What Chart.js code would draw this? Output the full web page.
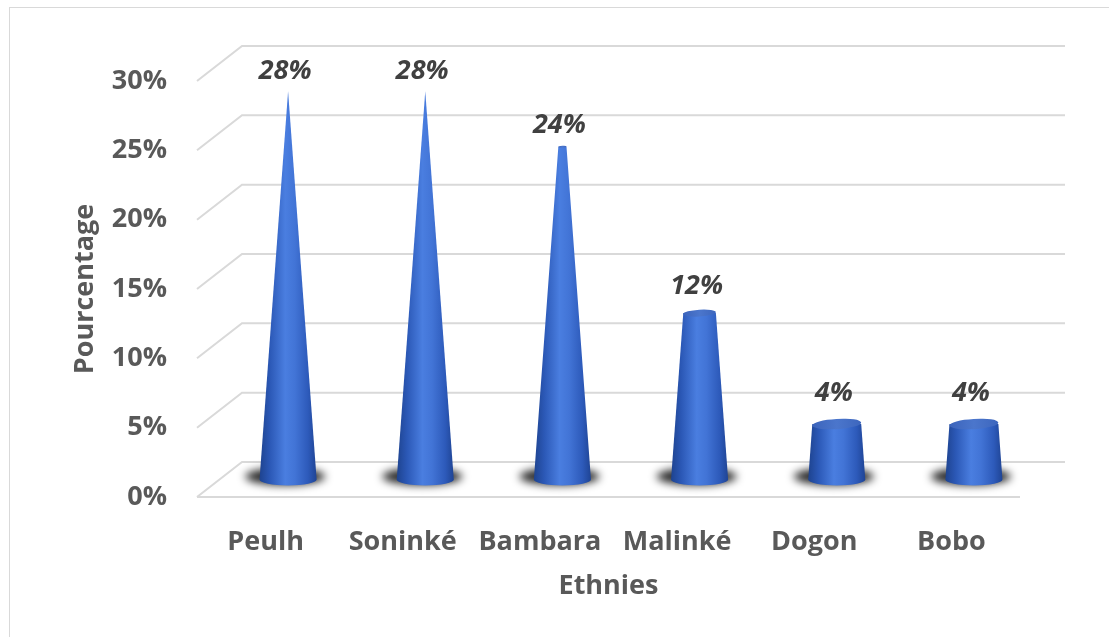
<!DOCTYPE html>
<html>
<head>
<meta charset="utf-8">
<script src="https://cdn.jsdelivr.net/npm/chart.js@4"></script>
<style>
  html, body { margin: 0; padding: 0; background: #fff; }
</style>
</head>
<body>
<canvas id="myChart" width="1109" height="637"></canvas>
<script>
// données
var ethnies = ['Peulh', 'Soninké', 'Bambara', 'Malinké', 'Dogon', 'Bobo'];
var pourcentages = [28, 28, 24, 12, 4, 4];
var yMin = 0, yMax = 30, yPas = 5;

// profondeur de la perspective (mur du fond)
var DX = 45, DY = -35;
var police = '"Open Sans", "Noto Sans", sans-serif';
var grisTexte = '#595959';

// grille 3D : mur du fond + plancher
var grille3D = {
    id: 'grille3D',
    beforeDraw: function (chart) {
        var ctx = chart.ctx;
        ctx.save();
        ctx.strokeStyle = '#d9d9d9';
        ctx.lineWidth = 1;
        ctx.strokeRect(9.5, 7.5, chart.width + 20, chart.height + 20);
        ctx.restore();
    },
    beforeDatasetsDraw: function (chart) {
        var ctx = chart.ctx, area = chart.chartArea, y = chart.scales.y;
        ctx.save();
        ctx.strokeStyle = '#d9d9d9';
        ctx.lineWidth = 2;
        y.ticks.forEach(function (t) {
            var py = y.getPixelForValue(t.value);
            ctx.beginPath();
            ctx.moveTo(area.left, py);
            ctx.lineTo(area.left + DX, py + DY);
            ctx.lineTo(area.right + DX, py + DY);
            ctx.stroke();
        });
        ctx.beginPath();
        ctx.moveTo(area.left, area.bottom);
        ctx.lineTo(area.right, area.bottom);
        ctx.stroke();
        ctx.restore();
    }
};

// cônes tronqués au maximum
var cones = {
    id: 'cones',
    afterDatasetsDraw: function (chart) {
        var ctx = chart.ctx, y = chart.scales.y;
        var meta = chart.getDatasetMeta(0);
        var maxVal = Math.max.apply(null, pourcentages);
        var yApex = y.getPixelForValue(maxVal) + DY / 2;
        var k = 0.21;
        ctx.save();
        meta.data.forEach(function (el, i) {
            var cx = el.x + DX / 2, yb = el.base + DY / 2, yt = el.y + DY / 2;
            var R = el.width / 2;
            var r = R * (yt - yApex) / (yb - yApex);

            // ombre portée (floutée)
            ctx.save();
            ctx.filter = 'blur(4px)';
            ctx.fillStyle = 'rgba(0,0,0,0.85)';
            ctx.beginPath();
            ctx.ellipse(cx - 3, yb - 3, R * 1.4, R * 0.3, 0, 0, Math.PI * 2);
            ctx.fill();
            ctx.restore();

            // corps
            var lg = ctx.createLinearGradient(cx - R, 0, cx + R, 0);
            lg.addColorStop(0, '#1e438f');
            lg.addColorStop(0.18, '#2b58b6');
            lg.addColorStop(0.45, '#4a7ee0');
            lg.addColorStop(0.62, '#4274d6');
            lg.addColorStop(0.85, '#2d5aba');
            lg.addColorStop(1, '#1f4494');
            ctx.fillStyle = lg;
            ctx.beginPath();
            ctx.moveTo(cx - R, yb);
            ctx.lineTo(cx - r, yt);
            ctx.lineTo(cx + r, yt);
            ctx.lineTo(cx + R, yb);
            ctx.ellipse(cx, yb, R, R * k, 0, 0, Math.PI, false);
            ctx.closePath();
            ctx.fill();

            // dessus
            if (r > 1) {
                var tg = ctx.createLinearGradient(cx - r, 0, cx + r, 0);
                tg.addColorStop(0, '#3c64bb');
                tg.addColorStop(0.5, '#4b76cc');
                tg.addColorStop(1, '#3d66bd');
                ctx.fillStyle = tg;
                ctx.beginPath();
                ctx.ellipse(cx, yt, r, r * k, -0.06, 0, Math.PI * 2);
                ctx.fill();
            }

            // étiquette de donnée
            var ecart = 20 + 2 * r * k;
            ctx.fillStyle = '#404040';
            ctx.font = 'italic bold 27px ' + police;
            ctx.textAlign = 'center';
            ctx.textBaseline = 'middle';
            ctx.fillText(pourcentages[i] + '%', cx - 3, yt - ecart);
        });
        ctx.restore();
    }
};

var ctx = document.getElementById('myChart').getContext('2d');
var myChart = new Chart(ctx, {
    type: 'bar',
    data: {
        labels: ethnies,
        datasets: [{
            label: 'Pourcentage',
            data: pourcentages,
            backgroundColor: 'rgba(0,0,0,0)',
            borderWidth: 0,
            barPercentage: 0.52,
            categoryPercentage: 0.8
        }]
    },
    options: {
        responsive: false,
        animation: false,
        layout: {
            padding: { left: 60, right: 89, top: 81, bottom: 20 }
        },
        plugins: {
            legend: { display: false },
            tooltip: { enabled: false }
        },
        scales: {
            x: {
                grid: { display: false, drawTicks: false },
                border: { display: false },
                ticks: {
                    color: grisTexte,
                    padding: 29,
                    font: { family: police, size: 27, weight: 'bold' }
                },
                title: {
                    display: true,
                    text: 'Ethnies',
                    color: grisTexte,
                    padding: { top: 0, bottom: 14 },
                    font: { family: police, size: 27, weight: 'bold' }
                },
                afterFit: function (scale) { scale.height = 120; }
            },
            y: {
                min: yMin,
                max: yMax,
                grid: { display: false, drawTicks: false },
                border: { display: false },
                ticks: {
                    stepSize: yPas,
                    color: grisTexte,
                    padding: 30,
                    font: { family: police, size: 27, weight: 'bold' },
                    callback: function (v) { return v + '%'; }
                },
                title: {
                    display: true,
                    text: 'Pourcentage',
                    color: grisTexte,
                    padding: { top: 9, bottom: 0 },
                    font: { family: police, size: 27, weight: 'bold' }
                },
                afterFit: function (scale) { scale.width = 137; }
            }
        }
    },
    plugins: [grille3D, cones]
});
</script>
</body>
</html>
